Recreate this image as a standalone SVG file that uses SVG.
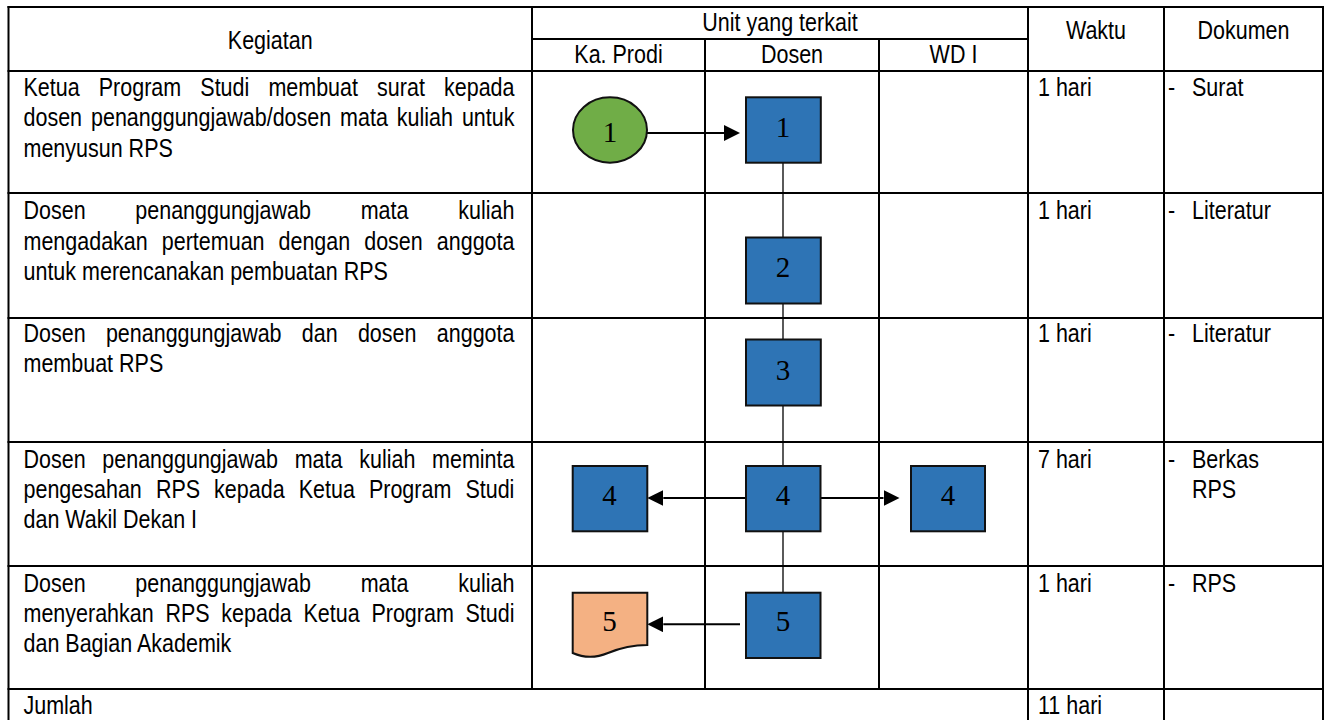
<svg xmlns="http://www.w3.org/2000/svg" width="1330" height="720" viewBox="0 0 1330 720">
<style>
.grid line { stroke:#000; stroke-width:2; }
.t { font-family:"Liberation Sans", Arial, sans-serif; font-size:26px; fill:#000; }
.c { text-anchor:middle; }
.num { font-family:"Liberation Serif", "Times New Roman", serif; font-size:29px; text-anchor:middle; fill:#000; }
.box { fill:#2E74B5; stroke:#111; stroke-width:2; }
.start { fill:#70AD47; stroke:#111; stroke-width:2; }
.doc { fill:#F4B183; stroke:#111; stroke-width:2; }
.conn { stroke:#000; fill:none; }
.arr { stroke-width:2; marker-end:url(#ah); }
.vl { stroke-width:1.3; }
</style>
<defs>
<marker id="ah" markerUnits="userSpaceOnUse" markerWidth="16" markerHeight="16" viewBox="0 0 16 16" refX="0" refY="8" orient="auto"><path d="M0,0 L16,8 L0,16 z" fill="#000"/></marker>
</defs>
<rect x="0" y="0" width="1330" height="720" fill="#fff"/>

<g id="table" class="grid">
<line x1="7.5" y1="7" x2="1324" y2="7"/>
<line x1="532" y1="39" x2="1028" y2="39"/>
<line x1="7.5" y1="71" x2="1324" y2="71"/>
<line x1="7.5" y1="193" x2="1324" y2="193"/>
<line x1="7.5" y1="318" x2="1324" y2="318"/>
<line x1="7.5" y1="442" x2="1324" y2="442"/>
<line x1="7.5" y1="566" x2="1324" y2="566"/>
<line x1="7.5" y1="689" x2="1324" y2="689"/>
<line x1="8.5" y1="6" x2="8.5" y2="720"/>
<line x1="532" y1="6" x2="532" y2="689"/>
<line x1="705" y1="39" x2="705" y2="689"/>
<line x1="879" y1="39" x2="879" y2="689"/>
<line x1="1028" y1="6" x2="1028" y2="720"/>
<line x1="1164" y1="6" x2="1164" y2="720"/>
<line x1="1323" y1="6" x2="1323" y2="720"/>
</g>

<g id="texts" class="t" transform="scale(0.827 1)">
<text class="c" x="326.78" y="49.5">Kegiatan</text>
<text class="c" x="943.17" y="31.5">Unit yang terkait</text>
<text class="c" x="747.88" y="63">Ka. Prodi</text>
<text class="c" x="957.68" y="63">Dosen</text>
<text class="c" x="1152.96" y="63">WD I</text>
<text class="c" x="1325.27" y="39.5">Waktu</text>
<text class="c" x="1503.63" y="39.5">Dokumen</text>

<text y="96"><tspan x="28.42">Ketua</tspan><tspan x="119.47">Program</tspan><tspan x="242.20">Studi</tspan><tspan x="324.55">membuat</tspan><tspan x="455.99">surat</tspan><tspan x="536.88">kepada</tspan></text>
<text y="126.5"><tspan x="28.42">dosen</tspan><tspan x="110.04">penanggungjawab/dosen</tspan><tspan x="411.25">mata</tspan><tspan x="479.81">kuliah</tspan><tspan x="558.53">untuk</tspan></text>
<text x="28.42" y="157">menyusun RPS</text>

<text y="219.5"><tspan x="28.42">Dosen</tspan><tspan x="163.60">penanggungjawab</tspan><tspan x="436.16">mata</tspan><tspan x="554.05">kuliah</tspan></text>
<text y="250"><tspan x="28.42">mengadakan</tspan><tspan x="195.65">pertemuan</tspan><tspan x="336.76">dengan</tspan><tspan x="440.39">dosen</tspan><tspan x="528.18">anggota</tspan></text>
<text x="28.42" y="280">untuk merencanakan pembuatan RPS</text>

<text y="342"><tspan x="28.42">Dosen</tspan><tspan x="128.05">penanggungjawab</tspan><tspan x="364.93">dan</tspan><tspan x="432.77">dosen</tspan><tspan x="528.18">anggota</tspan></text>
<text x="28.42" y="372.5">membuat RPS</text>

<text y="468"><tspan x="28.42">Dosen</tspan><tspan x="123.70">penanggungjawab</tspan><tspan x="356.35">mata</tspan><tspan x="434.34">kuliah</tspan><tspan x="522.49">meminta</tspan></text>
<text y="498"><tspan x="28.42">pengesahan</tspan><tspan x="188.51">RPS</tspan><tspan x="258.89">kepada</tspan><tspan x="361.19">Ketua</tspan><tspan x="446.07">Program</tspan><tspan x="562.76">Studi</tspan></text>
<text x="28.42" y="528.5">dan Wakil Dekan I</text>

<text y="592"><tspan x="28.42">Dosen</tspan><tspan x="163.60">penanggungjawab</tspan><tspan x="436.16">mata</tspan><tspan x="554.05">kuliah</tspan></text>
<text y="622"><tspan x="28.42">menyerahkan</tspan><tspan x="200.00">RPS</tspan><tspan x="267.59">kepada</tspan><tspan x="366.99">Ketua</tspan><tspan x="449.09">Program</tspan><tspan x="562.88">Studi</tspan></text>
<text x="28.42" y="652.5">dan Bagian Akademik</text>

<text x="28.42" y="714">Jumlah</text>

<text x="1255.14" y="96">1 hari</text>
<text x="1255.14" y="219.5">1 hari</text>
<text x="1255.14" y="342">1 hari</text>
<text x="1255.14" y="468">7 hari</text>
<text x="1255.14" y="592">1 hari</text>
<text x="1255.14" y="714">11 hari</text>

<text y="96"><tspan x="1412.3">-</tspan><tspan x="1441.35">Surat</tspan></text>
<text y="219.5"><tspan x="1412.3">-</tspan><tspan x="1441.35">Literatur</tspan></text>
<text y="342"><tspan x="1412.3">-</tspan><tspan x="1441.35">Literatur</tspan></text>
<text y="468"><tspan x="1412.3">-</tspan><tspan x="1441.35">Berkas</tspan></text>
<text x="1441.35" y="498">RPS</text>
<text y="592"><tspan x="1412.3">-</tspan><tspan x="1441.35">RPS</tspan></text>
</g>

<g id="connectors" class="conn">
<line class="arr" x1="647" y1="133" x2="724" y2="133"/>
<line class="vl" x1="783" y1="163" x2="783" y2="237.5"/>
<line class="vl" x1="783" y1="303.5" x2="783" y2="339.5"/>
<line class="vl" x1="783" y1="405.5" x2="783" y2="466"/>
<line class="arr" x1="746" y1="498" x2="663.3" y2="498"/>
<line class="arr" x1="820.5" y1="498" x2="883.5" y2="498"/>
<line class="vl" x1="783" y1="531.5" x2="783" y2="593"/>
<line class="arr" x1="740" y1="624.3" x2="663.3" y2="624.3"/>
</g>

<g id="n-start">
<ellipse class="start" cx="610" cy="130" rx="37" ry="32.7"/>
<text class="num" x="610" y="141.5">1</text>
</g>
<g id="n-dosen-1">
<rect class="box" x="746" y="97.3" width="74.8" height="65.4"/>
<text class="num" x="783" y="137">1</text>
</g>
<g id="n-dosen-2">
<rect class="box" x="746" y="237.5" width="74.8" height="66"/>
<text class="num" x="783" y="277">2</text>
</g>
<g id="n-dosen-3">
<rect class="box" x="746" y="339.5" width="74.8" height="66"/>
<text class="num" x="783" y="380">3</text>
</g>
<g id="n-kaprodi-4">
<rect class="box" x="572.7" y="466" width="74.6" height="65.3"/>
<text class="num" x="609.5" y="505">4</text>
</g>
<g id="n-dosen-4">
<rect class="box" x="746" y="466" width="74.5" height="65.3"/>
<text class="num" x="783" y="505">4</text>
</g>
<g id="n-wd-4">
<rect class="box" x="911" y="466" width="74" height="65.3"/>
<text class="num" x="948" y="505">4</text>
</g>
<g id="n-kaprodi-5">
<path class="doc" d="M572.7,592.7 H647.3 V645 C633,645 620,648 608,653 C596,658 584,658 572.7,653 Z"/>
<text class="num" x="609.5" y="631">5</text>
</g>
<g id="n-dosen-5">
<rect class="box" x="746" y="592.7" width="74.5" height="65.3"/>
<text class="num" x="783" y="631">5</text>
</g>
</svg>
